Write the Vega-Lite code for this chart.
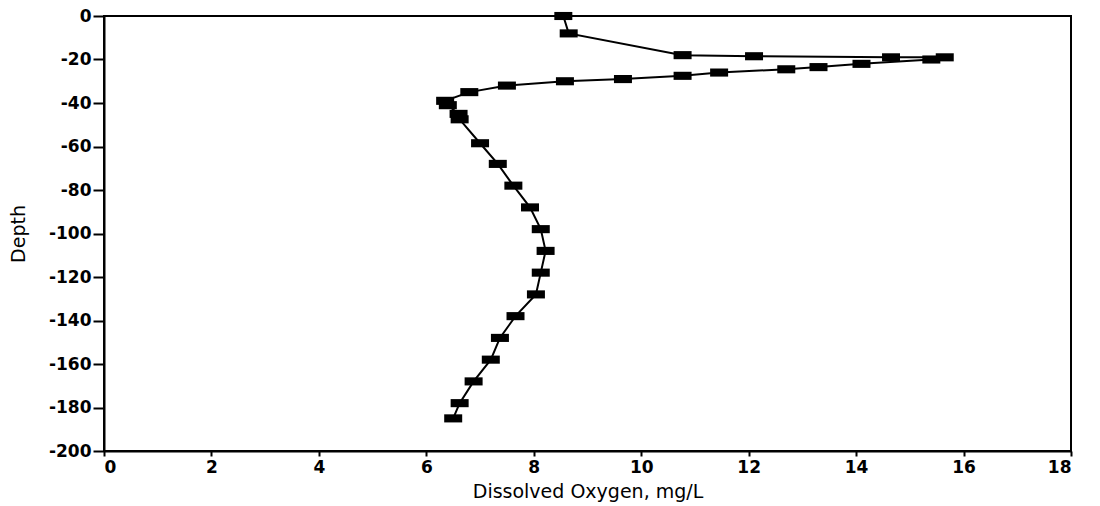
{
  "$schema": "https://vega.github.io/schema/vega-lite/v6.json",
  "autosize": "none",
  "padding": {"left": 104, "top": 16, "right": 29, "bottom": 55},
  "width": 967,
  "height": 435,
  "background": "white",
  "config": {
    "view": {"stroke": "black", "strokeWidth": 2},
    "axis": {
      "grid": false,
      "domainColor": "black",
      "domainWidth": 2,
      "tickColor": "black",
      "tickWidth": 2,
      "labelColor": "black",
      "labelFont": "DejaVu Sans",
      "labelFontSize": 17,
      "labelFontWeight": "bold",
      "titleColor": "black",
      "titleFont": "DejaVu Sans",
      "titleFontSize": 19,
      "titleFontWeight": "normal"
    }
  },
  "data": {
    "values": [
      {"i": 1, "do": 8.55, "depth": 0},
      {"i": 2, "do": 8.65, "depth": -8},
      {"i": 3, "do": 10.77, "depth": -18},
      {"i": 4, "do": 12.1, "depth": -18.5},
      {"i": 5, "do": 14.65, "depth": -19},
      {"i": 6, "do": 15.65, "depth": -19},
      {"i": 7, "do": 15.4, "depth": -20},
      {"i": 8, "do": 14.1, "depth": -22},
      {"i": 9, "do": 13.3, "depth": -23.5},
      {"i": 10, "do": 12.7, "depth": -24.5},
      {"i": 11, "do": 11.45, "depth": -26},
      {"i": 12, "do": 10.77, "depth": -27.5},
      {"i": 13, "do": 9.66, "depth": -29},
      {"i": 14, "do": 8.58, "depth": -30},
      {"i": 15, "do": 7.5, "depth": -32},
      {"i": 16, "do": 6.8, "depth": -35},
      {"i": 17, "do": 6.35, "depth": -39},
      {"i": 18, "do": 6.4, "depth": -41},
      {"i": 19, "do": 6.6, "depth": -45},
      {"i": 20, "do": 6.62, "depth": -47.5},
      {"i": 21, "do": 7.0, "depth": -58.5},
      {"i": 22, "do": 7.33, "depth": -68},
      {"i": 23, "do": 7.62, "depth": -78},
      {"i": 24, "do": 7.93, "depth": -88},
      {"i": 25, "do": 8.13, "depth": -98},
      {"i": 26, "do": 8.22, "depth": -108},
      {"i": 27, "do": 8.13, "depth": -118},
      {"i": 28, "do": 8.04, "depth": -128},
      {"i": 29, "do": 7.66, "depth": -138},
      {"i": 30, "do": 7.37, "depth": -148},
      {"i": 31, "do": 7.2, "depth": -158},
      {"i": 32, "do": 6.88, "depth": -168},
      {"i": 33, "do": 6.62, "depth": -178},
      {"i": 34, "do": 6.5, "depth": -185}
    ]
  },
  "encoding": {
    "x": {
      "field": "do",
      "type": "quantitative",
      "scale": {"domain": [0, 18], "nice": false, "zero": false},
      "axis": {
        "title": "Dissolved Oxygen, mg/L",
        "values": [0, 2, 4, 6, 8, 10, 12, 14, 16, 18],
        "labelExpr": "'' + datum.value",
        "tickSize": 5,
        "labelPadding": 3,
        "titlePadding": 7
      }
    },
    "y": {
      "field": "depth",
      "type": "quantitative",
      "scale": {"domain": [-200, 0], "nice": false, "zero": false},
      "axis": {
        "title": "Depth",
        "values": [-200, -180, -160, -140, -120, -100, -80, -60, -40, -20, 0],
        "labelExpr": "'' + datum.value",
        "tickSize": 11,
        "labelPadding": 2,
        "titlePadding": 20
      }
    },
    "order": {"field": "i", "type": "quantitative"}
  },
  "layer": [
    {"mark": {"type": "line", "color": "black", "strokeWidth": 2, "clip": false}},
    {
      "mark": {
        "type": "point",
        "shape": "M-1,-0.45H1V0.45H-1Z",
        "size": 324,
        "filled": true,
        "color": "black",
        "opacity": 1,
        "clip": false
      }
    }
  ]
}
